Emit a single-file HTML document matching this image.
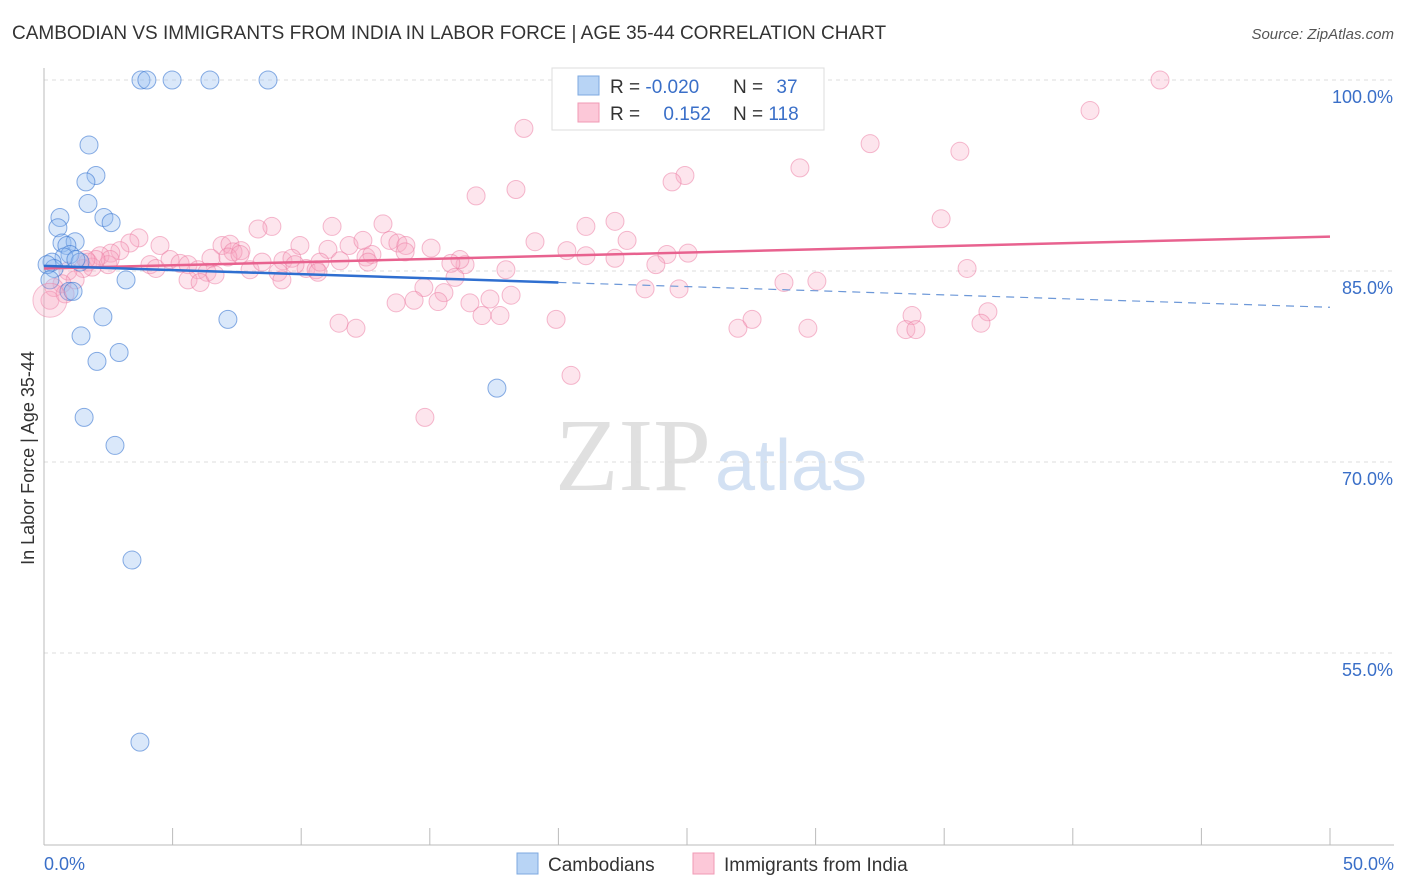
<!DOCTYPE html>
<html><head><meta charset="utf-8"><style>
body{margin:0;background:#fff;font-family:"Liberation Sans",sans-serif;}
svg{display:block}
</style></head><body>
<svg id="chart" width="1406" height="892" viewBox="0 0 1406 892" xmlns="http://www.w3.org/2000/svg">
<text x="12" y="39" font-size="19" fill="#333" font-family="Liberation Sans, sans-serif">CAMBODIAN VS IMMIGRANTS FROM INDIA IN LABOR FORCE | AGE 35-44 CORRELATION CHART</text>
<text x="1394" y="39" font-size="15" fill="#555" text-anchor="end" font-style="italic">Source: ZipAtlas.com</text>
<text x="555" y="490" font-size="104" fill="#e0e0e0" font-family="Liberation Serif, serif"><tspan>ZIP</tspan><tspan fill="#d3e1f3" font-family="Liberation Sans, sans-serif" font-size="72" dx="4">atlas</tspan></text>
<g id="grid"></g>
<g id="axes"></g>
<g id="marks"></g>
<g id="trends"></g>
<text transform="translate(34,458) rotate(-90)" font-size="18" fill="#333" text-anchor="middle">In Labor Force | Age 35-44</text>
<g>
<rect x="552" y="68" width="272" height="62" fill="#fff" stroke="#ddd"/>
<rect x="578" y="76" width="21" height="19" fill="#b8d4f5" stroke="#7ea9e0"/>
<rect x="578" y="103" width="21" height="19" fill="#fcc8d8" stroke="#f09ab5"/>
<text x="610" y="93" font-size="19" fill="#333">R = <tspan fill="#3a6fc8">-0.020</tspan></text>
<text x="733" y="93" font-size="19" fill="#333">N = <tspan fill="#3a6fc8" dx="8">37</tspan></text>
<text x="610" y="120" font-size="19" fill="#333">R = <tspan fill="#3a6fc8" dx="18">0.152</tspan></text>
<text x="733" y="120" font-size="19" fill="#333">N = <tspan fill="#3a6fc8">118</tspan></text>
</g>
<g>
<rect x="517" y="853" width="21" height="21" fill="#b8d4f5" stroke="#7ea9e0"/>
<text x="548" y="871" font-size="19" fill="#333">Cambodians</text>
<rect x="693" y="853" width="21" height="21" fill="#fcc8d8" stroke="#f09ab5"/>
<text x="724" y="871" font-size="19" fill="#333">Immigrants from India</text>
</g>
</svg>
<script>
const yTicks=[100,85,70,55];
const yTickLabels=["100.0%","85.0%","70.0%","55.0%"];
const xTickLabels=["0.0%","50.0%"];
const camX=[3.77,4.0,4.98,6.45,8.71,1.75,2.02,1.63,1.71,0.62,2.33,2.61,0.54,0.70,1.21,0.89,1.01,0.78,0.31,0.39,0.12,1.40,1.24,3.19,0.97,1.13,2.29,7.15,1.44,2.92,2.06,1.56,2.76,3.42,3.73,17.61,0.23];
const camY=[100,100,100,100,100,94.9,92.5,92.0,90.3,89.2,89.2,88.8,88.4,87.2,87.3,87.0,86.3,86.1,85.7,85.2,85.5,85.7,85.9,84.3,83.4,83.4,81.4,81.2,79.9,78.6,77.9,73.5,71.3,62.3,48.0,75.8,84.3];
const indX=[43.39,40.67,18.66,32.12,35.61,29.39,24.92,24.42,18.35,16.80,34.88,22.20,21.07,11.20,13.18,8.86,8.32,3.69,19.09,22.67,9.95,11.04,11.86,12.40,13.45,13.76,14.07,15.05,20.33,6.92,7.23,7.66,7.35,24.22,25.04,22.20,16.37,16.17,15.82,23.79,17.96,35.89,4.51,3.34,2.95,2.60,2.18,1.71,1.87,4.12,4.35,4.90,5.29,5.60,6.49,5.99,6.34,5.60,6.07,6.65,8.01,8.48,9.29,9.64,10.19,10.58,10.73,11.51,12.52,12.75,14.04,12.60,9.10,9.25,10.65,15.98,21.07,2.49,1.52,0.93,1.21,0.70,0.39,0.23,0.82,14.77,15.55,16.56,17.34,18.16,13.69,14.39,15.32,17.03,17.73,23.37,24.69,28.77,30.05,11.47,12.13,19.91,27.53,26.98,29.70,33.75,33.51,33.90,36.70,36.43,20.49,14.81,7.15,7.62,2.57,2.02,9.76,1.63];
const indY=[100,97.6,96.2,95.0,94.4,93.1,92.5,92.0,91.4,90.9,89.1,88.9,88.5,88.5,88.7,88.5,88.3,87.6,87.3,87.4,87.0,86.7,87.0,87.4,87.4,87.2,87.0,86.8,86.6,87.0,87.1,86.6,86.5,86.3,86.4,86.0,85.5,85.9,85.6,85.5,85.1,85.2,87.0,87.2,86.6,86.4,86.2,85.7,85.3,85.5,85.2,85.9,85.6,85.5,86.0,85.1,84.9,84.3,84.1,84.7,85.1,85.7,85.8,86.0,85.2,85.1,85.7,85.8,86.1,86.3,86.5,85.7,84.9,84.3,84.9,84.5,86.2,85.5,85.2,85.0,84.3,84.0,83.7,82.7,83.2,83.7,83.3,82.5,82.8,83.1,82.5,82.7,82.6,81.5,81.5,83.6,83.6,84.1,84.2,80.9,80.5,81.2,81.2,80.5,80.5,81.5,80.4,80.4,81.8,80.9,76.8,73.5,86.1,86.3,85.9,85.9,85.5,85.9];
const camTrend=[85.4,-0.065];
const indTrend=[85.2,0.05];
const X0=44,X1=1330,Y100=80,PPY=12.733;
const sx=v=>X0+(X1-X0)*v/50;
const sy=v=>Y100+(100-v)*PPY;
const NS="http://www.w3.org/2000/svg";
function mk(tag,attrs,parent){const e=document.createElementNS(NS,tag);for(const k in attrs)e.setAttribute(k,attrs[k]);document.getElementById(parent).appendChild(e);return e;}
yTicks.forEach((t,i)=>{
 const g=mk('line',{x1:44,x2:1394,y1:sy(t),y2:sy(t),stroke:'#ddd','stroke-dasharray':'4,4'},'grid');
 
 
 const l=mk('text',{x:1393,y:sy(t)+23,'font-size':18,fill:'#3a6fc8','text-anchor':'end'},'axes');
 l.textContent=yTickLabels[i];
 
 
});
const ax=mk('line',{x1:44,x2:44,y1:68,y2:845,stroke:'#bbb'},'axes');


const bx=mk('line',{x1:44,x2:1394,y1:845,y2:845,stroke:'#bbb'},'axes');


for(let i=0;i<=10;i++){
 const t=mk('line',{x1:sx(i*5),x2:sx(i*5),y1:828,y2:845,stroke:'#bbb'},'axes');
 
 
}
[[0,'start',44],[50,'end',1394]].forEach((d,i)=>{
 const l=mk('text',{x:d[2],y:870,'font-size':18,fill:'#3a6fc8','text-anchor':d[1]},'axes');
 l.textContent=xTickLabels[i];
 
 
});
indX.forEach((x,i)=>{
 const c=mk('circle',{cx:sx(x),cy:sy(indY[i]),r:9,fill:'rgba(248,170,195,0.3)',stroke:'rgba(235,120,160,0.5)','stroke-width':1},'marks');
 
 
});
camX.forEach((x,i)=>{
 const c=mk('circle',{cx:sx(x),cy:sy(camY[i]),r:9,fill:'rgba(150,190,240,0.35)',stroke:'rgba(60,120,210,0.6)','stroke-width':1},'marks');
 
 
});
const big=mk('circle',{cx:sx(0.23),cy:sy(82.7),r:17,fill:'rgba(248,170,195,0.3)',stroke:'rgba(235,120,160,0.45)'},'marks');


const ct=x=>camTrend[0]+camTrend[1]*x, it=x=>indTrend[0]+indTrend[1]*x;
const t1=mk('line',{x1:sx(0),y1:sy(it(0)),x2:sx(50),y2:sy(it(50)),stroke:'#e8628f','stroke-width':2.5},'trends');


const t2=mk('line',{x1:sx(0),y1:sy(ct(0)),x2:sx(20),y2:sy(ct(20)),stroke:'#2f6fd0','stroke-width':2.5},'trends');


const t3=mk('line',{x1:sx(20),y1:sy(ct(20)),x2:sx(50),y2:sy(ct(50)),stroke:'#6d98d8','stroke-width':1.2,'stroke-dasharray':'8,6'},'trends');


</script>
</body></html>
